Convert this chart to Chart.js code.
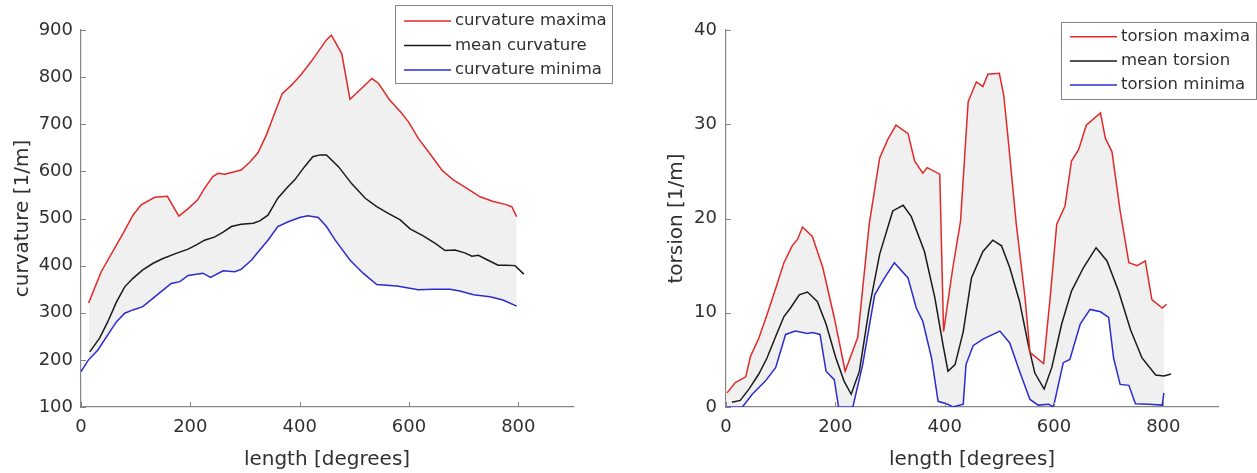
<!DOCTYPE html>
<html>
<head>
<meta charset="utf-8">
<script src="https://cdn.jsdelivr.net/npm/chart.js@4.4.1/dist/chart.umd.min.js"></script>
<style>
html, body { margin: 0; padding: 0; background: #fff; }
#wrap { position: relative; width: 1257px; height: 473px; }
#wrap canvas { position: absolute; top: 0; }
</style>
</head>
<body>
<div id="wrap">
<canvas id="curvatureChart" width="628" height="473" style="left:0"></canvas>
<canvas id="torsionChart" width="629" height="473" style="left:628px"></canvas>
</div>
<script>

/* DATA */

const xTicks = [0, 200, 400, 600, 800];
const curvTicks = [100, 200, 300, 400, 500, 600, 700, 800, 900];
const torsTicks = [0, 10, 20, 30, 40];

const curvMaxX = [14, 37, 65, 80, 95, 110, 135, 158, 179, 196, 213, 226, 241, 251, 263, 293, 309, 324, 339, 354, 368, 385, 403, 421, 449, 458, 477, 492, 513, 532, 544, 565, 584, 599, 617, 638, 660, 681, 706, 730, 754, 776, 788, 797];
const curvMaxY = [321, 387, 444, 475, 507, 529, 545, 547, 505, 521, 539, 564, 589, 596, 594, 603, 620, 640, 677, 723, 765, 783, 806, 833, 879, 889, 850, 753, 776, 797, 787, 751, 727, 705, 670, 638, 603, 582, 564, 546, 536, 530, 525, 504];

const curvMeanX = [16, 34, 49, 65, 80, 95, 113, 132, 150, 174, 196, 211, 226, 245, 260, 275, 293, 315, 327, 342, 360, 376, 391, 409, 424, 437, 449, 471, 495, 520, 541, 562, 584, 602, 626, 648, 666, 684, 702, 715, 727, 742, 763, 778, 794, 810];
const curvMeanY = [217, 246, 281, 323, 355, 373, 391, 405, 415, 426, 435, 444, 454, 461, 471, 483, 488, 490, 495, 507, 543, 564, 582, 610, 631, 635, 635, 610, 574, 543, 525, 511, 497, 478, 463, 447, 432, 433, 427, 420, 422, 413, 401, 401, 400, 382];

const curvMinX = [0, 13, 31, 49, 65, 80, 95, 113, 132, 150, 165, 181, 196, 223, 237, 260, 281, 293, 312, 327, 342, 360, 379, 400, 415, 434, 449, 465, 492, 516, 541, 578, 617, 645, 675, 693, 718, 748, 772, 797];
const curvMinY = [175, 199, 221, 253, 281, 299, 306, 313, 331, 348, 362, 366, 379, 384, 375, 389, 387, 392, 412, 433, 454, 483, 493, 502, 506, 502, 483, 454, 412, 384, 360, 357, 349, 350, 350, 346, 338, 334, 327, 314];

const torsMaxX = [2, 17, 36, 45, 60, 75, 91, 106, 121, 131, 140, 158, 177, 198, 218, 241, 262, 281, 296, 311, 333, 345, 360, 368, 391, 398, 415, 429, 443, 458, 470, 479, 500, 508, 516, 531, 547, 556, 581, 593, 605, 620, 632, 645, 659, 685, 694, 706, 721, 737, 752, 767, 779, 798, 806];
const torsMaxY = [1.5, 2.6, 3.2, 5.4, 7.3, 9.8, 12.6, 15.3, 17.1, 17.8, 19.1, 18.1, 14.8, 9.5, 3.8, 7.4, 19.4, 26.4, 28.4, 29.9, 29.0, 26.1, 24.8, 25.4, 24.7, 8.0, 14.8, 19.7, 32.4, 34.5, 34.0, 35.3, 35.4, 33.1, 28.5, 19.4, 11.6, 5.8, 4.6, 11.6, 19.4, 21.3, 26.1, 27.3, 29.9, 31.2, 28.5, 27.1, 20.8, 15.3, 15.0, 15.5, 11.4, 10.5, 10.9];

const torsMeanX = [11, 26, 42, 60, 75, 91, 106, 118, 134, 149, 167, 183, 201, 216, 229, 244, 262, 281, 305, 324, 339, 363, 382, 397, 406, 419, 434, 449, 470, 488, 504, 519, 537, 553, 565, 582, 596, 614, 632, 654, 677, 697, 718, 740, 761, 786, 801, 814];
const torsMeanY = [0.5, 0.7, 1.9, 3.5, 5.2, 7.5, 9.6, 10.5, 11.9, 12.2, 11.2, 8.8, 5.2, 2.75, 1.35, 3.8, 10.5, 16.2, 20.8, 21.4, 20.2, 16.5, 11.6, 6.6, 3.8, 4.5, 8.0, 13.7, 16.5, 17.7, 17.1, 14.8, 11.2, 6.6, 3.6, 1.9, 4.2, 8.8, 12.3, 14.8, 16.9, 15.5, 12.3, 8.2, 5.2, 3.4, 3.3, 3.5];

const torsMinX = [0, 30, 48, 72, 91, 109, 127, 149, 158, 172, 183, 198, 206, 232, 250, 272, 290, 308, 333, 348, 360, 376, 388, 403, 415, 434, 439, 452, 470, 501, 519, 537, 556, 571, 590, 599, 617, 629, 648, 666, 685, 700, 709, 721, 737, 749, 773, 798, 801];
const torsMinY = [0, 0, 1.35, 2.75, 4.2, 7.7, 8.05, 7.8, 7.9, 7.7, 3.8, 2.9, 0, 0, 4.5, 11.9, 13.7, 15.3, 13.7, 10.5, 9.1, 5.2, 0.6, 0.35, 0, 0.3, 4.5, 6.5, 7.2, 8.05, 6.8, 3.8, 0.8, 0.2, 0.3, 0, 4.7, 5.05, 8.8, 10.35, 10.1, 9.5, 5.2, 2.4, 2.3, 0.35, 0.3, 0.2, 1.5];


/* STYLE */

const FONT = "'DejaVu Sans', sans-serif";
const AXIS = "#858585";
const TEXT = "#303030";
const RED = "#e02a2a";
const BLACK = "#1a1a1a";
const BLUE = "#2b2bd0";
const BAND = "#f0f0f0";

function points(xs, ys) {
  return xs.map(function (x, i) { return {x: x, y: ys[i]}; });
}

/* ticks pointing into the plot, like the original figure */
const inwardTicks = {
  id: "inwardTicks",
  afterDraw(chart) {
    const ctx = chart.ctx;
    const a = chart.chartArea;
    const xs = chart.scales.x;
    const ys = chart.scales.y;
    ctx.save();
    ctx.strokeStyle = AXIS;
    ctx.lineWidth = 1;
    ctx.beginPath();
    xs.ticks.forEach(function (t) {
      const p = Math.round(xs.getPixelForValue(t.value)) + 0.5;
      ctx.moveTo(p, a.bottom);
      ctx.lineTo(p, a.bottom - 5);
    });
    ys.ticks.forEach(function (t) {
      const p = Math.round(ys.getPixelForValue(t.value)) + 0.5;
      ctx.moveTo(a.left, p);
      ctx.lineTo(a.left + 5, p);
    });
    ctx.stroke();
    ctx.restore();
  }
};

/* boxed legend in the top right corner */
const boxLegend = {
  id: "boxLegend",
  afterDraw(chart, args, opts) {
    const ctx = chart.ctx;
    ctx.save();
    ctx.fillStyle = "#fff";
    ctx.fillRect(opts.x, opts.y, opts.w, opts.h);
    ctx.strokeStyle = AXIS;
    ctx.lineWidth = 1;
    ctx.strokeRect(opts.x + 0.5, opts.y + 0.5, opts.w, opts.h);
    ctx.font = "16.5px " + FONT;
    ctx.textBaseline = "middle";
    chart.data.datasets.forEach(function (ds, i) {
      const cy = opts.y + opts.rowTop + i * opts.rowGap;
      ctx.strokeStyle = ds.borderColor;
      ctx.lineWidth = 1.5;
      ctx.beginPath();
      ctx.moveTo(opts.x + 9, cy);
      ctx.lineTo(opts.x + 56, cy);
      ctx.stroke();
      ctx.fillStyle = TEXT;
      ctx.fillText(ds.label, opts.x + 60, cy);
    });
    ctx.restore();
  }
};

function makeChart(id, cfg) {

  new Chart(document.getElementById(id), {

    type: "line",

    data: {
      datasets: [
        {label: cfg.labels[0], data: cfg.max, borderColor: RED, backgroundColor: BAND, fill: 2},
        {label: cfg.labels[1], data: cfg.mean, borderColor: BLACK, fill: false},
        {label: cfg.labels[2], data: cfg.min, borderColor: BLUE, fill: false}
      ]
    },

    options: {
      responsive: false,
      animation: false,
      events: [],
      elements: {
        point: {radius: 0},
        line: {borderWidth: 1.5, tension: 0}
      },
      layout: {
        padding: {left: 0, top: 30, right: cfg.padRight, bottom: 0}
      },
      plugins: {
        legend: {display: false},
        tooltip: {enabled: false},
        filler: {drawTime: "beforeDatasetsDraw"},
        boxLegend: cfg.legend
      },
      scales: {
        x: {
          type: "linear",
          min: 0,
          max: 900,
          afterBuildTicks: function (scale) {
            scale.ticks = xTicks.map(function (v) { return {value: v}; });
          },
          afterFit: function (scale) { scale.height = 66; },
          grid: {display: false, drawTicks: false},
          border: {display: true, color: AXIS, width: 1.2},
          ticks: {color: TEXT, font: {family: FONT, size: 18}, padding: 10, maxRotation: 0},
          title: {
            display: true,
            text: "length [degrees]",
            color: TEXT,
            font: {family: FONT, size: 20, lineHeight: 1.2},
            padding: {top: 0, bottom: 1}
          }
        },
        y: {
          type: "linear",
          min: cfg.yTicks[0],
          max: cfg.yTicks[cfg.yTicks.length - 1],
          afterBuildTicks: function (scale) {
            scale.ticks = cfg.yTicks.map(function (v) { return {value: v}; });
          },
          afterFit: function (scale) { scale.width = cfg.yWidth; },
          grid: {display: false, drawTicks: false},
          border: {display: true, color: AXIS, width: 1.2},
          ticks: {color: TEXT, font: {family: FONT, size: 18}, padding: cfg.tickPad},
          title: {
            display: true,
            text: cfg.yTitle,
            color: TEXT,
            font: {family: FONT, size: 20, lineHeight: 1.2},
            padding: {top: cfg.titlePad, bottom: 0}
          }
        }
      }
    },

    plugins: [inwardTicks, boxLegend]

  });

}


/* CURVATURE */

makeChart("curvatureChart", {
  labels: ["curvature maxima", "mean curvature", "curvature minima"],
  max: points(curvMaxX, curvMaxY),
  mean: points(curvMeanX, curvMeanY),
  min: points(curvMinX, curvMinY),
  yTicks: curvTicks,
  yTitle: "curvature [1/m]",
  yWidth: 81,
  padRight: 55,
  tickPad: 8,
  titlePad: 11,
  legend: {x: 395, y: 5, w: 217, h: 78, rowTop: 16, rowGap: 24.5}
});


/* TORSION */

makeChart("torsionChart", {
  labels: ["torsion maxima", "mean torsion", "torsion minima"],
  max: points(torsMaxX, torsMaxY),
  mean: points(torsMeanX, torsMeanY),
  min: points(torsMinX, torsMinY),
  yTicks: torsTicks,
  yTitle: "torsion [1/m]",
  yWidth: 98,
  padRight: 39,
  tickPad: 9,
  titlePad: 37,
  legend: {x: 433, y: 22, w: 195, h: 77, rowTop: 14.7, rowGap: 24.2}
});

</script>
</body>
</html>
